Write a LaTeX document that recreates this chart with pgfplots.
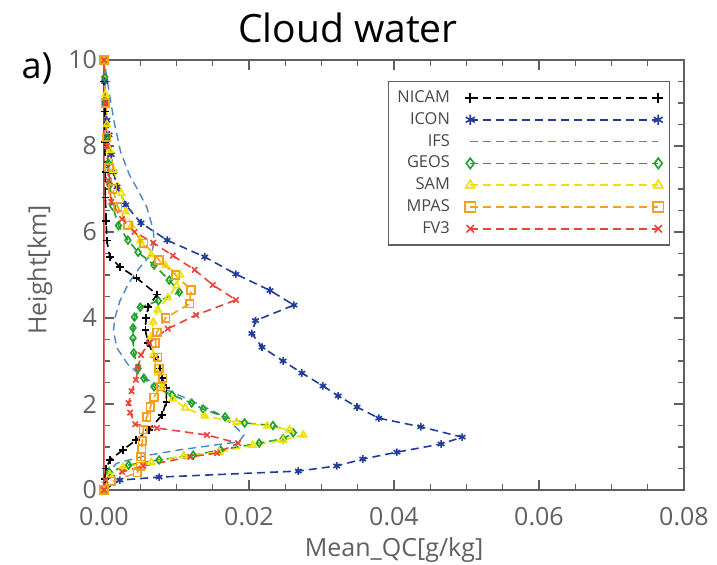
\documentclass[border=0pt]{standalone}
\usepackage{fontspec}
\setmainfont{Open Sans}
\usepackage{pgfplots}
\pgfplotsset{compat=1.18}
\definecolor{cNICAM}{HTML}{000000}
\definecolor{cICON}{HTML}{1F3D99}
\definecolor{cIFS}{HTML}{4A86CC}
\definecolor{cGEOS}{HTML}{1FA02A}
\definecolor{cSAM}{HTML}{F0E000}
\definecolor{cMPAS}{HTML}{F2A01E}
\definecolor{cFV3}{HTML}{EB4438}
\definecolor{txt}{HTML}{606060}
\newcommand{\legtxt}[1]{#1\rule{6pt}{0pt}}
\begin{document}
\begin{tikzpicture}
\useasboundingbox (-52pt,-37pt) rectangle (306.5pt,245pt);
\begin{axis}[
  at={(0,0)}, anchor=south west,
  scale only axis, width=290pt, height=215pt,
  xmin=0, xmax=0.08, ymin=0, ymax=10,
  xtick={0,0.02,0.04,0.06,0.08}, ytick={0,2,4,6,8,10},
  minor x tick num=3, minor y tick num=3,
  scaled x ticks=false,
  major tick length=5pt, minor tick length=3pt,
  axis line style={draw=txt, line width=0.6pt},
  every tick/.style={draw=txt, line width=0.6pt},
  ticklabel style={font=\fontsize{12.5}{14}\selectfont, text=txt},
  x tick label style={/pgf/number format/.cd, fixed, fixed zerofill, precision=2, assume math mode=true, /tikz/.cd, yshift=-5pt},
  y tick label style={/pgf/number format/assume math mode=true},
  every axis plot/.append style={line width=0.8pt, dash pattern=on 4pt off 2.5pt, mark size=1.9pt, mark options={solid}},
  legend style={at={(0.976,0.951)}, anchor=north east, draw=txt, line width=0.6pt,
    font=\fontsize{8.2}{9}\selectfont, text=black!72, inner xsep=3pt, inner ysep=3pt, row sep=0.6pt,
    nodes={inner ysep=1.4pt, inner xsep=1.6pt, text height=6pt, text depth=1.5pt}},
  legend plot pos=right, legend cell align=right,
  legend image code/.code={\draw[#1, line width=0.8pt, mark size=2.6pt] plot coordinates {(0pt,0pt) (94pt,0pt)};},
]
\addplot[cFV3!80, solid, line width=1.2pt, forget plot, mark=none] coordinates {(0,0) (0,10)};
\addplot[cNICAM, mark=+] coordinates {(0,0) (0.0001,0.25) (0.0003,0.50) (0.0008,0.70) (0.0026,0.93) (0.0044,1.16) (0.0062,1.40) (0.0080,1.74) (0.0086,2.05) (0.0086,2.37) (0.0080,2.60) (0.0077,2.83) (0.0070,3.09) (0.0061,3.42) (0.0057,3.72) (0.0058,4.00) (0.0061,4.25) (0.0073,4.55) (0.0045,4.93) (0.0022,5.19) (0.0008,5.42) (0.0004,5.80) (0.0003,6.25) (0.0002,6.80) (0.0002,7.40) (0.0001,8.10) (0.0001,8.80) (0,9.50) (0,10)};
\addlegendentry{\legtxt{NICAM}}
\addplot[cICON, mark=asterisk] coordinates {(0,0) (0.0022,0.23) (0.0076,0.30) (0.0268,0.44) (0.0321,0.56) (0.0357,0.72) (0.0404,0.88) (0.0465,1.07) (0.0494,1.23) (0.0437,1.47) (0.0379,1.67) (0.0349,1.93) (0.0323,2.19) (0.0302,2.42) (0.0273,2.72) (0.0247,3.00) (0.0218,3.32) (0.0204,3.64) (0.0209,3.94) (0.0262,4.30) (0.0229,4.64) (0.0182,5.02) (0.0139,5.42) (0.0087,5.81) (0.0051,6.21) (0.0030,6.63) (0.0018,7.05) (0.0013,7.40) (0.0010,7.80) (0.0007,8.26) (0.0004,8.60) (0.0002,9.00) (0.0001,9.50) (0,10)};
\addlegendentry{\legtxt{ICON}}
\addplot[cIFS, mark=none, line width=0.7pt] coordinates {(0,0) (0.0002,0.30) (0.0017,0.62) (0.0058,0.80) (0.0103,0.93) (0.0150,1.04) (0.0186,1.12) (0.0193,1.28) (0.0178,1.52) (0.0156,1.79) (0.0119,2.09) (0.0077,2.40) (0.0050,2.67) (0.0033,2.92) (0.0018,3.30) (0.0013,3.70) (0.0015,4.00) (0.0022,4.40) (0.0034,4.81) (0.0050,5.19) (0.0066,5.50) (0.0069,5.80) (0.0068,6.05) (0.0059,6.58) (0.0046,7.00) (0.0035,7.33) (0.0023,7.86) (0.0014,8.56) (0.0007,9.26) (0.0002,9.80) (0,10)};
\addlegendentry{\legtxt{IFS}}
\addplot[cGEOS, mark=diamond] coordinates {(0,0) (0.0007,0.42) (0.0034,0.58) (0.0076,0.70) (0.0123,0.81) (0.0161,0.93) (0.0214,1.09) (0.0247,1.19) (0.0261,1.33) (0.0233,1.50) (0.0194,1.56) (0.0167,1.70) (0.0137,1.88) (0.0121,2.02) (0.0094,2.21) (0.0069,2.40) (0.0055,2.60) (0.0047,2.83) (0.0041,3.19) (0.0040,3.53) (0.0040,3.77) (0.0042,4.02) (0.0050,4.25) (0.0075,4.40) (0.0104,4.60) (0.0090,4.88) (0.0069,5.23) (0.0047,5.53) (0.0033,5.81) (0.0020,6.15) (0.0012,6.60) (0.0008,7.10) (0.0006,7.60) (0.0004,8.20) (0.0002,9.00) (0.0001,9.60) (0,10)};
\addlegendentry{\legtxt{GEOS}}
\addplot[cSAM, mark=triangle] coordinates {(0,0) (0.0008,0.35) (0.0026,0.53) (0.0065,0.65) (0.0110,0.80) (0.0159,0.88) (0.0205,1.04) (0.0247,1.16) (0.0275,1.28) (0.0256,1.40) (0.0225,1.49) (0.0183,1.58) (0.0139,1.72) (0.0112,1.91) (0.0095,2.12) (0.0080,2.40) (0.0074,2.72) (0.0068,3.14) (0.0065,3.56) (0.0068,3.91) (0.0074,4.19) (0.0088,4.47) (0.0100,4.75) (0.0105,5.00) (0.0085,5.22) (0.0065,5.47) (0.0050,5.80) (0.0038,6.15) (0.0030,6.47) (0.0024,6.90) (0.0013,7.44) (0.0008,7.90) (0.0004,8.50) (0.0002,9.20) (0,10)};
\addlegendentry{\legtxt{SAM}}
\addplot[cMPAS, mark=square] coordinates {(0,0) (0.0010,0.20) (0.0046,0.40) (0.0050,0.55) (0.0051,0.77) (0.0052,0.95) (0.0053,1.15) (0.0054,1.40) (0.0059,1.70) (0.0064,1.93) (0.0069,2.16) (0.0078,2.40) (0.0081,2.60) (0.0076,2.83) (0.0074,3.09) (0.0071,3.42) (0.0073,3.67) (0.0085,4.00) (0.0118,4.33) (0.0120,4.65) (0.0099,5.00) (0.0076,5.35) (0.0055,5.74) (0.0033,6.16) (0.0019,6.58) (0.0012,7.00) (0.0007,7.50) (0.0004,8.20) (0.0002,9.00) (0,10)};
\addlegendentry{\legtxt{MPAS}}
\addplot[cFV3, mark=x] coordinates {(0,0) (0.0002,0.23) (0.0025,0.42) (0.0054,0.56) (0.0119,0.77) (0.0156,0.86) (0.0185,1.09) (0.0142,1.28) (0.0073,1.44) (0.0043,1.53) (0.0036,1.80) (0.0034,2.02) (0.0038,2.30) (0.0044,2.56) (0.0047,2.85) (0.0051,3.14) (0.0062,3.42) (0.0088,3.75) (0.0127,4.07) (0.0182,4.42) (0.0150,4.77) (0.0125,5.12) (0.0095,5.45) (0.0068,5.75) (0.0042,6.00) (0.0025,6.30) (0.0010,6.70) (0.0006,7.20) (0.0004,8.00) (0.0002,9.00) (0,10)};
\addlegendentry{\legtxt{FV3}}
\end{axis}
\node[font=\fontsize{19.5}{23}\selectfont] at (122pt,231pt) {Cloud water};
\node[font=\fontsize{18}{22}\selectfont] at (-33.5pt,211pt) {a)};
\node[rotate=90, font=\fontsize{12.5}{14}\selectfont, text=txt] at (-32pt,110pt) {Height[km]};
\node[font=\fontsize{12.5}{14}\selectfont, text=txt] at (145pt,-30pt) {Mean\_QC[g/kg]};
\end{tikzpicture}
\end{document}
